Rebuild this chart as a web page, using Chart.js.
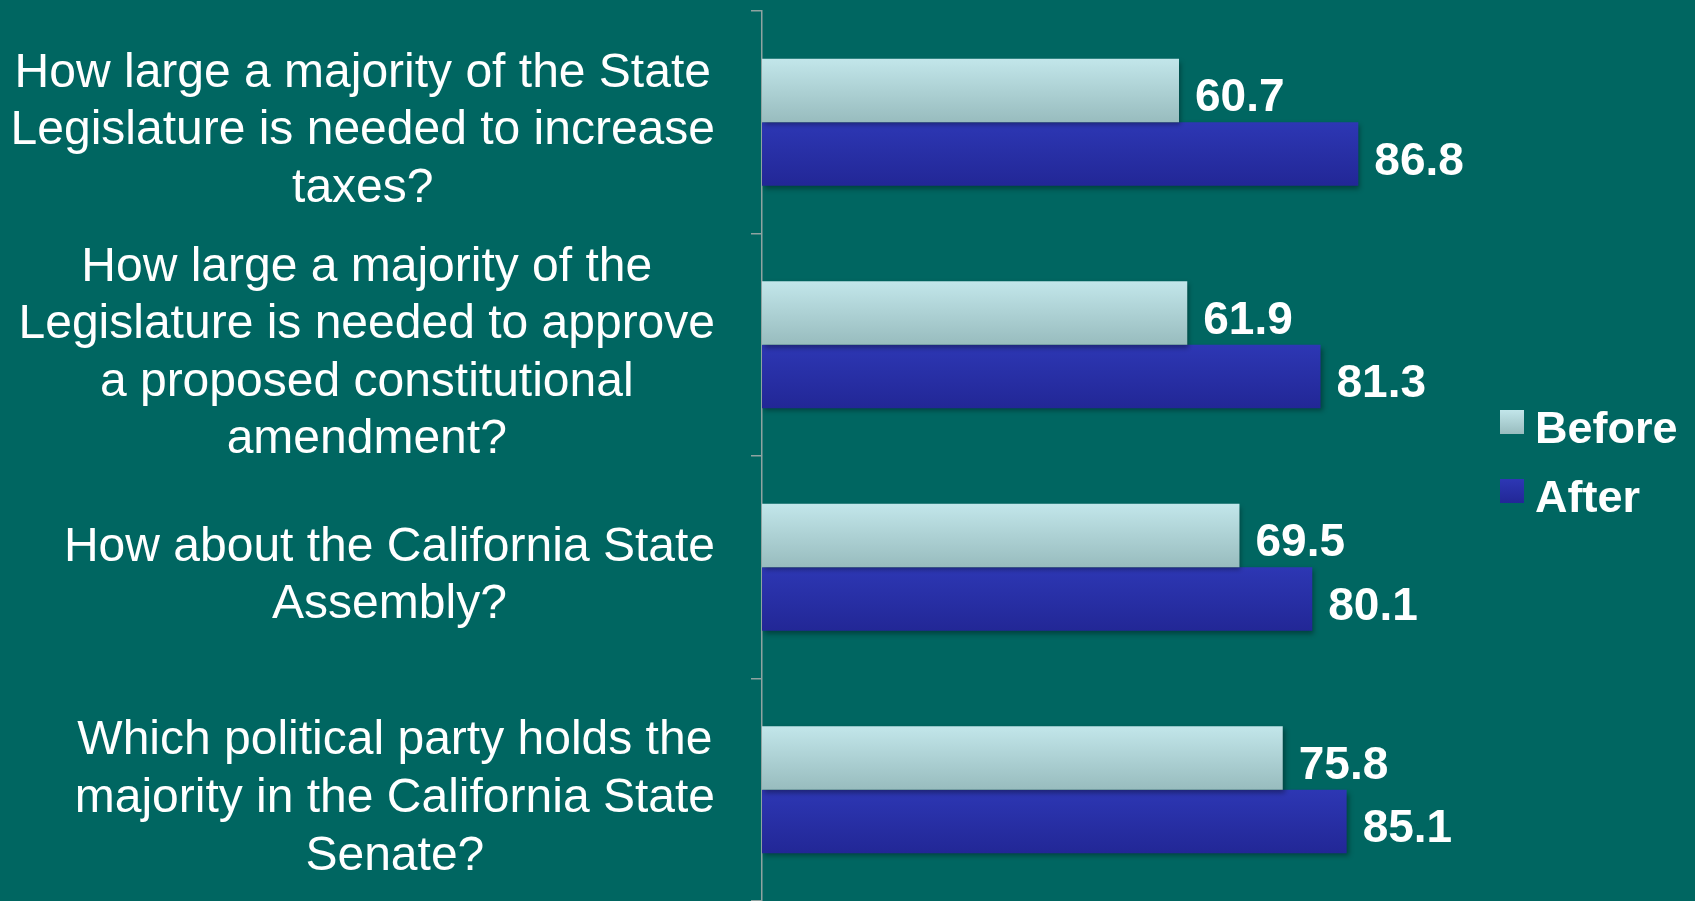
<!DOCTYPE html>
<html lang="en">
<head>
  <meta charset="UTF-8" />
  <title>Before / After knowledge</title>
  <script src="https://cdn.jsdelivr.net/npm/chart.js"></script>
  <style>
    html, body { margin: 0; padding: 0; background: #006661; }
    #wrap { width: 1695px; height: 901px; }
  </style>
</head>
<body>
  <div id="wrap"><canvas id="chart"></canvas></div>

<script>
  const questions = [
    ['How large a majority of the State', 'Legislature is needed to increase', 'taxes?'],
    ['How large a majority of the', 'Legislature is needed to approve', 'a proposed constitutional', 'amendment?'],
    ['How about the California State', 'Assembly?'],
    ['Which political party holds the', 'majority in the California State', 'Senate?']
  ];
  const beforeValues = [60.7, 61.9, 69.5, 75.8];
  const afterValues = [86.8, 81.3, 80.1, 85.1];
  const seriesNames = ['Before', 'After'];

  const FONT = '"Liberation Sans", Arial, sans-serif';
  const shades = [
    ['#c2e6ea', '#98bcbe'],   // before: pale cyan
    ['#2d37b4', '#222796']    // after: deep blue
  ];

  // vertical gradient + soft shadow on every bar
  const barLook = {
    id: 'barLook',
    beforeDatasetsDraw(chart) {
      const ctx = chart.ctx;
      chart.data.datasets.forEach((ds, di) => {
        chart.getDatasetMeta(di).data.forEach(el => {
          const { y, height } = el.getProps(['y', 'height'], true);
          const g = ctx.createLinearGradient(0, y - height / 2, 0, y + height / 2);
          g.addColorStop(0, shades[di][0]);
          g.addColorStop(1, shades[di][1]);
          el.options.backgroundColor = g;
        });
      });
    },
    beforeDatasetDraw(chart) {
      const ctx = chart.ctx;
      ctx.save();
      ctx.shadowColor = 'rgba(0,0,0,0.35)';
      ctx.shadowBlur = 5;
      ctx.shadowOffsetX = 2;
      ctx.shadowOffsetY = 3;
    },
    afterDatasetDraw(chart) {
      chart.ctx.restore();
    }
  };

  // value labels at the end of each bar
  const valueLabels = {
    id: 'valueLabels',
    afterDatasetsDraw(chart) {
      const ctx = chart.ctx;
      ctx.save();
      ctx.fillStyle = '#ffffff';
      ctx.font = 'bold 46px ' + FONT;
      ctx.textBaseline = 'middle';
      ctx.textAlign = 'left';
      chart.data.datasets.forEach((ds, di) => {
        chart.getDatasetMeta(di).data.forEach((el, i) => {
          ctx.fillText(ds.data[i].toFixed(1), el.x + 16, el.y + 8);
        });
      });
      ctx.restore();
    }
  };

  // category labels: each block pushed against the axis, lines centred in the block
  const questionLabels = {
    id: 'questionLabels',
    afterDraw(chart) {
      const ctx = chart.ctx;
      const scale = chart.scales.y;
      const lineH = 57.6;
      const right = scale.right - 11 - 36;
      ctx.save();
      ctx.font = '48px ' + FONT;
      ctx.fillStyle = '#ffffff';
      ctx.textAlign = 'center';
      ctx.textBaseline = 'middle';
      chart.data.labels.forEach((lines, i) => {
        const w = Math.max(...lines.map(l => ctx.measureText(l).width));
        const cx = right - w / 2;
        const cy = scale.getPixelForValue(i) + 9;
        lines.forEach((l, k) => {
          ctx.fillText(l, cx, cy + (k - (lines.length - 1) / 2) * lineH);
        });
      });
      ctx.restore();
    }
  };

  // legend to the right of the plot, centred vertically
  const sideLegend = {
    id: 'sideLegend',
    afterDraw(chart) {
      const ctx = chart.ctx;
      const area = chart.chartArea;
      const mid = (area.top + area.bottom) / 2;
      const x0 = area.right + 51;
      ctx.save();
      ctx.font = 'bold 45px ' + FONT;
      ctx.textBaseline = 'middle';
      chart.data.datasets.forEach((ds, di) => {
        const cy = mid - 34 + di * 69;
        const g = ctx.createLinearGradient(0, cy - 12, 0, cy + 12);
        g.addColorStop(0, shades[di][0]);
        g.addColorStop(1, shades[di][1]);
        ctx.fillStyle = g;
        ctx.fillRect(x0, cy - 12, 24, 24);
        ctx.fillStyle = '#ffffff';
        ctx.fillText(ds.label, x0 + 35, cy + 9);
      });
      ctx.restore();
    }
  };

  new Chart(document.getElementById('chart'), {
    type: 'bar',
    data: {
      labels: questions,
      datasets: [
        {
          label: seriesNames[0],
          data: beforeValues,
          backgroundColor: () => shades[0][0]
        },
        {
          label: seriesNames[1],
          data: afterValues,
          backgroundColor: () => shades[1][0]
        }
      ]
    },
    options: {
      indexAxis: 'y',
      responsive: true,
      maintainAspectRatio: false,
      animation: false,
      layout: { padding: { top: 11, left: 8, right: 246, bottom: 0 } },
      datasets: {
        bar: { barPercentage: 1, categoryPercentage: 0.57, borderWidth: 0 }
      },
      scales: {
        x: { display: false, min: 0, max: 100 },
        y: {
          offset: true,
          afterFit(scale) {
            // room for the wrapped question text drawn by questionLabels
            scale.width = 754;
            scale.paddingTop = 0;
            scale.paddingBottom = 0;
          },
          grid: {
            drawOnChartArea: false,
            drawTicks: true,
            tickLength: 11,
            color: '#8fa3a1',
            lineWidth: 1.5
          },
          border: { display: true, color: '#8fa3a1', width: 1.5 },
          ticks: { display: false, autoSkip: false }
        }
      },
      plugins: {
        tooltip: { enabled: false },
        legend: { display: false }
      }
    },
    plugins: [barLook, valueLabels, questionLabels, sideLegend]
  });
</script>
</body>
</html>
